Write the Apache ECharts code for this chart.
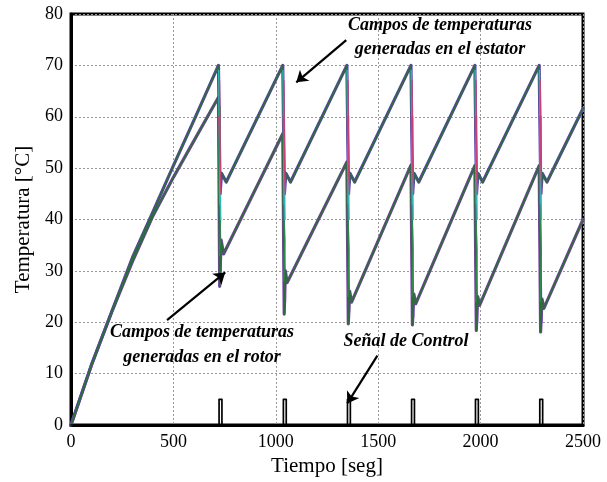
<!DOCTYPE html>
<html>
<head>
<meta charset="utf-8">
<script src="https://cdn.jsdelivr.net/npm/echarts@6/dist/echarts.min.js"></script>
<style>
html,body{margin:0;padding:0;background:#fff;}
#chart{width:607px;height:482px;}
</style>
</head>
<body>
<div id="chart"></div>
<script>
// ---- Data ----
var xTicks = [0, 500, 1000, 1500, 2000, 2500];
var yTicks = [0, 10, 20, 30, 40, 50, 60, 70, 80];

// Stator temperature field [time s, °C]
var statorTemp = [
  [0,0],[100,11.7],[200,22.2],[300,32.6],[400,41.5],[500,50.5],[600,59.3],[720,70],
  [728,45],[735,49],[758,47.3],[1034,70],
  [1042,45],[1049,49],[1072,47.3],[1347,70],
  [1355,45],[1362,49],[1385,47.3],[1660,70],
  [1668,45],[1675,49],[1698,47.3],[1972,70],
  [1980,45],[1987,49],[2010,47.3],[2286,70],
  [2294,45],[2301,49],[2324,47.3],[2500,61.6]
];

// Rotor temperature field [time s, °C]
var rotorTemp = [
  [0,0],[100,11.7],[200,22.1],[300,31.8],[400,40.7],[500,48.2],[600,55.3],[720,63.8],
  [726,27],[733,36],[745,33.3],[1034,56.7],
  [1041,21.6],[1047,30],[1055,27.7],[1347,51.2],
  [1354,19.7],[1361,26],[1370,23.9],[1660,50.6],
  [1667,19.5],[1674,25.5],[1683,23.6],[1972,50.5],
  [1979,18.4],[1986,25],[1995,23.3],[2286,50.5],
  [2293,18.1],[2300,24.5],[2309,22.7],[2500,40]
];

// Node scatter at the switching instants (multicolour bands)
var noiseCyan = [
  [721,69],[727,43],[723,64],[731,40],[726,55],[726,null],
  [1035,69],[1041,43],[1037,64],[1045,40],[1040,55],[1040,null],
  [1348,69],[1354,43],[1350,64],[1358,40],[1353,55],[1353,null],
  [1661,69],[1667,43],[1663,64],[1671,40],[1666,55],[1666,null],
  [1973,69],[1979,43],[1975,64],[1983,40],[1978,55],[1978,null],
  [2287,69],[2293,43],[2289,64],[2297,40],[2292,55]
];
var noiseRed = [
  [725,67],[729,50],[722,60],[732,45],[727,52],[727,null],
  [1039,67],[1043,50],[1036,60],[1046,45],[1041,52],[1041,null],
  [1352,67],[1356,50],[1349,60],[1359,45],[1354,52],[1354,null],
  [1665,67],[1669,50],[1662,60],[1672,45],[1667,52],[1667,null],
  [1977,67],[1981,50],[1974,60],[1984,45],[1979,52],[1979,null],
  [2291,67],[2295,50],[2288,60],[2298,45],[2293,52]
];
var noiseBlue = [
  [722,65],[729,35],[724,48],[733,30],[733,null],
  [1036,62],[1043,30],[1038,45],[1047,24],[1047,null],
  [1349,62],[1356,28],[1351,44],[1360,22],[1360,null],
  [1662,62],[1669,28],[1664,44],[1673,21],[1673,null],
  [1974,62],[1981,27],[1976,44],[1985,20],[1985,null],
  [2288,62],[2295,27],[2290,44],[2299,20]
];
var noiseGreen = [
  [728,62],[723,46],[730,40],[725,33],[725,null],
  [1042,60],[1037,44],[1044,36],[1039,28],[1039,null],
  [1355,60],[1350,44],[1357,34],[1352,25],[1352,null],
  [1668,60],[1663,44],[1670,34],[1665,25],[1665,null],
  [1980,60],[1975,44],[1982,34],[1977,24],[1977,null],
  [2294,60],[2289,44],[2296,34],[2291,24]
];

// Control signal pulses
var pulseStart = [723, 1037, 1350, 1663, 1975, 2289];
var pulseEnd   = [737, 1051, 1364, 1677, 1989, 2303];
var pulseHigh  = 5;

// Annotation arrows [tail, tip] in data coordinates
var arrowStator  = [[1344, 74.9], [1100, 66.7]];
var arrowRotor   = [[469, 20.4], [753, 29.7]];
var arrowControl = [[1496, 13.5], [1349, 4.2]];

// ---- Build ----
var control = [[0,0]];
for (var i = 0; i < pulseStart.length; i++) {
  control.push([pulseStart[i], 0], [pulseStart[i], pulseHigh], [pulseEnd[i], pulseHigh], [pulseEnd[i], 0]);
}
control.push([2500, 0]);

var chart = echarts.init(document.getElementById('chart'), null, {renderer: 'canvas'});
var serif = '"Liberation Serif","Times New Roman",serif';
var annFont = 'italic bold 18px ' + serif;

function lineS(data, color, width, z) {
  return {type:'line', data:data, showSymbol:false, symbol:'none', z:z||2,
    lineStyle:{color:color, width:width, join:'round', cap:'round'}, connectNulls:false, animation:false, silent:true};
}

var option = {
  backgroundColor:'#fff',
  animation:false,
  grid:{left:71, right:24, top:14, bottom:57, show:true, borderColor:'#000', borderWidth:3, backgroundColor:'#fff'},
  xAxis:{type:'value', min:0, max:2500, interval:500,
    name:'Tiempo [seg]', nameLocation:'middle', nameGap:25,
    nameTextStyle:{fontFamily:serif, fontSize:21, color:'#000'},
    axisLine:{show:true, lineStyle:{color:'#000', width:3}},
    axisTick:{show:false},
    axisLabel:{fontFamily:serif, fontSize:18, color:'#000', margin:8,
      formatter:function(v){return xTicks.indexOf(v)>=0 ? String(v) : '';}},
    splitLine:{show:true, lineStyle:{color:'#999', width:1, type:[2,2]}}
  },
  yAxis:{type:'value', min:0, max:80, interval:10,
    name:'Temperatura [°C]', nameLocation:'middle', nameGap:35,
    nameTextStyle:{fontFamily:serif, fontSize:21, color:'#000'},
    axisLine:{show:true, lineStyle:{color:'#000', width:3}},
    axisTick:{show:false},
    axisLabel:{fontFamily:serif, fontSize:18, color:'#000', margin:8,
      formatter:function(v){return yTicks.indexOf(v)>=0 ? String(v) : '';}},
    splitLine:{show:true, lineStyle:{color:'#999', width:1, type:[2,2]}}
  },
  series:[
    lineS(noiseBlue, '#6a5cff', 1.5, 2),
    lineS(rotorTemp, '#7a3fa8', 3.2, 3),
    lineS(rotorTemp, '#2e6b3e', 1.8, 4),
    lineS(statorTemp, '#6040b8', 3.2, 3),
    lineS(statorTemp, '#2e6b3e', 1.8, 4),
    lineS(noiseGreen, '#2f8a4a', 1.4, 5),
    lineS(noiseCyan, '#2fb8b0', 1.4, 5),
    lineS(noiseRed, '#c8407a', 1.4, 5),
    lineS(control, '#000', 1.7, 6),
    {type:'lines', coordinateSystem:'cartesian2d', z:8, animation:false, silent:true,
      symbol:['none','arrow'], symbolSize:11,
      lineStyle:{color:'#000', width:2.2, opacity:1},
      data:[{coords:arrowStator},{coords:arrowRotor},{coords:arrowControl}]}
  ]
};
chart.setOption(option);

function txt(s, x, y){
  return {type:'text', silent:true, z:100, x:x, y:y,
    style:{text:s, font:annFont, fill:'#000', align:'center', verticalAlign:'middle'}};
}
chart.setOption({graphic:[
  txt('Campos de temperaturas', 440, 25),
  txt('generadas en el estator', 440, 49),
  txt('Campos de temperaturas', 202, 332),
  txt('generadas en el rotor', 202, 357),
  txt('Señal de Control', 406, 341)
]});
</script>
</body>
</html>
